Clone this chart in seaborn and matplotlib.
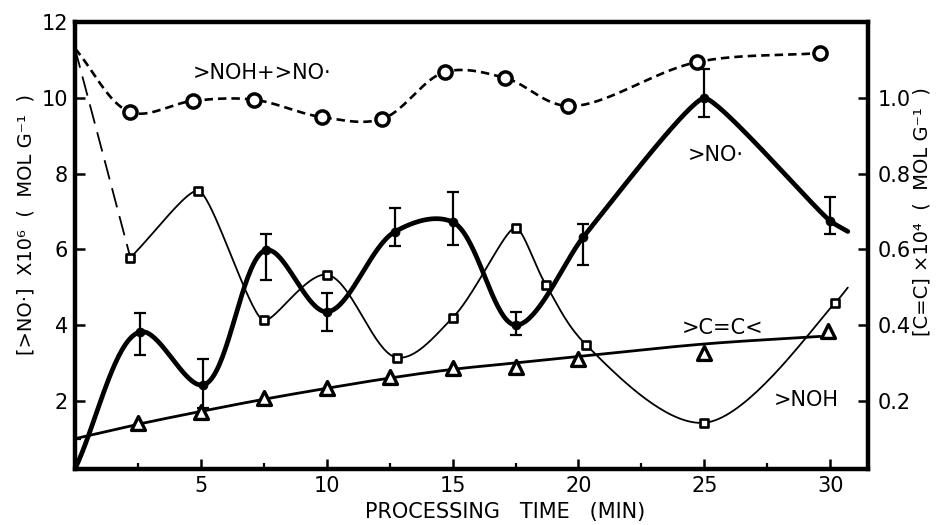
import numpy as np
import matplotlib
matplotlib.use("Agg")
import matplotlib.pyplot as plt
import seaborn as sns

# ---- data (concentrations vs processing time, min) ----
# total nitroxyl + hydroxylamine, x10^6 mol/g
total_t = [2.2, 4.7, 7.1, 9.8, 12.2, 14.7, 17.1, 19.6, 24.7, 29.6]
total_v = [9.62, 9.92, 9.95, 9.49, 9.44, 10.68, 10.52, 9.78, 10.94, 11.18]
initial_total = 11.3  # both curves start from this value at t = 0

# hydroxylamine >NOH, x10^6 mol/g
noh_t = [2.2, 4.9, 7.5, 10.0, 12.8, 15.0, 17.5, 18.7, 20.3, 25.0, 30.2]
noh_v = [5.78, 7.55, 4.12, 5.33, 3.14, 4.19, 6.57, 5.07, 3.48, 1.42, 4.59]
noh_tail = (30.7, 4.99)

# nitroxyl radical >NO., x10^6 mol/g, with error bar limits
no_t = [2.6, 5.1, 7.6, 10.0, 12.7, 15.0, 17.5, 20.2, 25.0, 30.0]
no_v = [3.82, 2.42, 5.98, 4.35, 6.46, 6.72, 4.00, 6.33, 9.99, 6.75]
no_lo = [3.21, 1.80, 5.19, 3.85, 6.09, 6.12, 3.74, 5.59, 9.49, 6.41]
no_hi = [4.32, 3.11, 6.41, 4.85, 7.09, 7.51, 4.35, 6.67, 10.76, 7.38]
no_start = (0.0, 0.2)
no_tail = (30.7, 6.47)

# unsaturation >C=C<, x10^4 mol/g (right axis) and its smoothed trend
cc_t = [2.5, 5.0, 7.5, 10.0, 12.5, 15.0, 17.5, 20.0, 25.0, 29.9]
cc_v = [0.142, 0.171, 0.208, 0.235, 0.264, 0.287, 0.290, 0.310, 0.327, 0.385]
cc_fit_t = [0.0, 2.5, 5.0, 7.5, 10.0, 12.5, 15.0, 17.5, 20.0, 25.0, 29.6]
cc_fit_v = [0.100, 0.138, 0.172, 0.204, 0.233, 0.260, 0.283, 0.300, 0.317, 0.350, 0.370]

x_major = [5, 10, 15, 20, 25, 30]
x_minor = [2.5, 7.5, 12.5, 17.5, 22.5, 27.5]
y_left_ticks = [2, 4, 6, 8, 10, 12]
y_right_ticks = [0.2, 0.4, 0.6, 0.8, 1.0]
y_right_labels = ["0.2", "0.4", "0.6", "0.8", "1.0"]

# curve tightness at each knot (1 = plain Catmull-Rom, lower = sharper turn)
no_curve_tension = [1, 1, 1, 1, 1, 1, 1, 1, 0.7, 0.35, 0.7, 1]
noh_curve_tension = [1, 0.55, 0.55, 1, 1, 1, 0.6, 1, 1, 1, 1, 1]


def smooth(xs, ys, sx, sy, tension=None, n=40, alpha=0.5):
    """Centripetal Catmull-Rom curve (Hermite form) through the given points."""
    p = np.column_stack([np.asarray(xs, float) * sx, np.asarray(ys, float) * sy])
    npts = len(p)
    tau = np.ones(npts) if tension is None else np.asarray(tension, float)
    p = np.vstack([2 * p[0] - p[1], p, 2 * p[-1] - p[-2]])
    u = np.linspace(0, 1, n)[:, None]
    h00 = 2 * u**3 - 3 * u**2 + 1
    h10 = u**3 - 2 * u**2 + u
    h01 = -2 * u**3 + 3 * u**2
    h11 = u**3 - u**2
    out = []
    for i in range(1, len(p) - 2):
        p0, p1, p2, p3 = p[i - 1], p[i], p[i + 1], p[i + 2]
        d01 = np.linalg.norm(p1 - p0) ** alpha
        d12 = np.linalg.norm(p2 - p1) ** alpha
        d23 = np.linalg.norm(p3 - p2) ** alpha
        m1 = (p1 - p0) / d01 - (p2 - p0) / (d01 + d12) + (p2 - p1) / d12
        m2 = (p2 - p1) / d12 - (p3 - p1) / (d12 + d23) + (p3 - p2) / d23
        m1 = m1 * d12 * tau[i - 1]
        m2 = m2 * d12 * tau[i]
        c = h00 * p1 + h10 * m1 + h01 * p2 + h11 * m2
        out.append(c if i == 1 else c[1:])
    c = np.vstack(out)
    return c[:, 0] / sx, c[:, 1] / sy


sns.set_theme(style="ticks")
plt.rcParams["font.family"] = ["DejaVu Sans"]
plt.rcParams["text.color"] = "black"

fig = plt.figure(figsize=(9.42, 5.25), dpi=100)
ax = fig.add_axes([0.0796, 0.1067, 0.8418, 0.8514])
ax2 = ax.twinx()
ax2.set_position([0.0796, 0.1067, 0.8418, 0.8514])

XMAX = 31.5
ax.set_xlim(0, XMAX)
ax.set_ylim(0.2, 12)
ax2.set_ylim(0.02, 1.2)

# pixel scale used for curve parameterisation
SX, SY = 25.2, 37.9

K = "black"

def curve(axis, xs, ys, sy, lw, ls="-", z=2, tension=None):
    cx, cy = smooth(xs, ys, SX, sy, tension=tension)
    sns.lineplot(x=cx, y=cy, sort=False, estimator=None, color=K,
                 linewidth=lw, linestyle=ls, ax=axis, zorder=z)

# total (dashed, open circles)
curve(ax, [0.0] + total_t, [initial_total] + total_v, SY, 1.9, (0, (3.2, 1.9)))
sns.scatterplot(x=total_t, y=total_v, marker="o", s=90, color="white",
                edgecolor=K, linewidth=2.5, ax=ax, zorder=4)

# >NOH: long-dashed start then thin smooth curve with open squares
sns.lineplot(x=[0.0, noh_t[0]], y=[initial_total, noh_v[0]], sort=False,
             estimator=None, color=K, linewidth=1.3, linestyle=(0, (11, 5)),
             ax=ax, zorder=2)
curve(ax, noh_t + [noh_tail[0]], noh_v + [noh_tail[1]], SY, 1.3,
      tension=noh_curve_tension)
sns.scatterplot(x=noh_t, y=noh_v, marker="s", s=40, color="white",
              edgecolor=K, linewidth=1.9, ax=ax, zorder=4)

# >NO.: thick curve, filled dots, error bars
curve(ax, [no_start[0]] + no_t + [no_tail[0]],
      [no_start[1]] + no_v + [no_tail[1]], SY, 3.4, z=3,
      tension=no_curve_tension)
ax.errorbar(no_t, no_v,
            yerr=[np.array(no_v) - np.array(no_lo), np.array(no_hi) - np.array(no_v)],
            fmt="none", ecolor=K, elinewidth=1.6, capsize=4, capthick=1.6, zorder=3)
sns.scatterplot(x=no_t, y=no_v, marker="o", s=42, color=K, edgecolor=K,
                linewidth=0.5, ax=ax, zorder=5)

# >C=C< on the right axis: trend curve and open triangles
curve(ax2, cc_fit_t, cc_fit_v, SY * 10, 2.0)
sns.scatterplot(x=cc_t, y=cc_v, marker="^", s=100, color="white",
                edgecolor=K, linewidth=2.4, ax=ax2, zorder=4)

# ---- axes styling ----
for side in ["left", "right", "top", "bottom"]:
    ax.spines[side].set_visible(True)
    ax.spines[side].set_linewidth(3.2)
    ax.spines[side].set_color(K)
for side in ax2.spines:
    ax2.spines[side].set_visible(False)

ax.set_xticks(x_major)
ax.set_xticks(x_minor, minor=True)
ax.set_yticks(y_left_ticks)
ax.set_yticks([1], minor=True)
ax2.set_yticks(y_right_ticks)
ax2.set_yticklabels(y_right_labels)
ax2.set_yticks([], minor=True)

ax.tick_params(axis="both", which="major", direction="in", length=7, width=1.8,
               labelsize=15, colors=K, pad=5)
ax.tick_params(axis="both", which="minor", direction="in", length=4.5, width=1.6,
               colors=K)
ax.tick_params(axis="x", which="both", top=False)
ax.tick_params(axis="y", which="both", right=False)
ax2.tick_params(axis="y", which="major", direction="in", length=7, width=1.8,
                labelsize=15, colors=K, pad=7, left=False, right=True)

ax.set_xlabel("PROCESSING   TIME   (MIN)", fontsize=15, color=K)
ax.xaxis.set_label_coords(0.543, -0.097)
ax.xaxis.label.set_verticalalignment("center")

ax.set_ylabel("[>NO·]  X10⁶  (  MOL G⁻¹  )", fontsize=14, color=K)
ax.yaxis.set_label_coords(-0.062, 0.546)
ax.yaxis.label.set_rotation_mode("anchor")
ax.yaxis.label.set_verticalalignment("center")
ax.yaxis.label.set_horizontalalignment("center")

ax2.set_ylabel("[C=C] ×10⁴  (  MOL G⁻¹  )", fontsize=14, color=K, rotation=90)
ax2.yaxis.set_label_coords(1.068, 0.575)
ax2.yaxis.label.set_rotation_mode("anchor")
ax2.yaxis.label.set_verticalalignment("center")
ax2.yaxis.label.set_horizontalalignment("center")

# series labels
ax.text(4.68, 10.65, ">NOH+>NO·", fontsize=15, ha="left", va="center", color=K)
ax.text(24.33, 8.49, ">NO·", fontsize=15, ha="left", va="center", color=K)
ax.text(24.1, 3.93, ">C=C<", fontsize=15, ha="left", va="center", color=K)
ax.text(27.74, 2.03, ">NOH", fontsize=15, ha="left", va="center", color=K)

fig.savefig("out.png", dpi=100, facecolor="white")
